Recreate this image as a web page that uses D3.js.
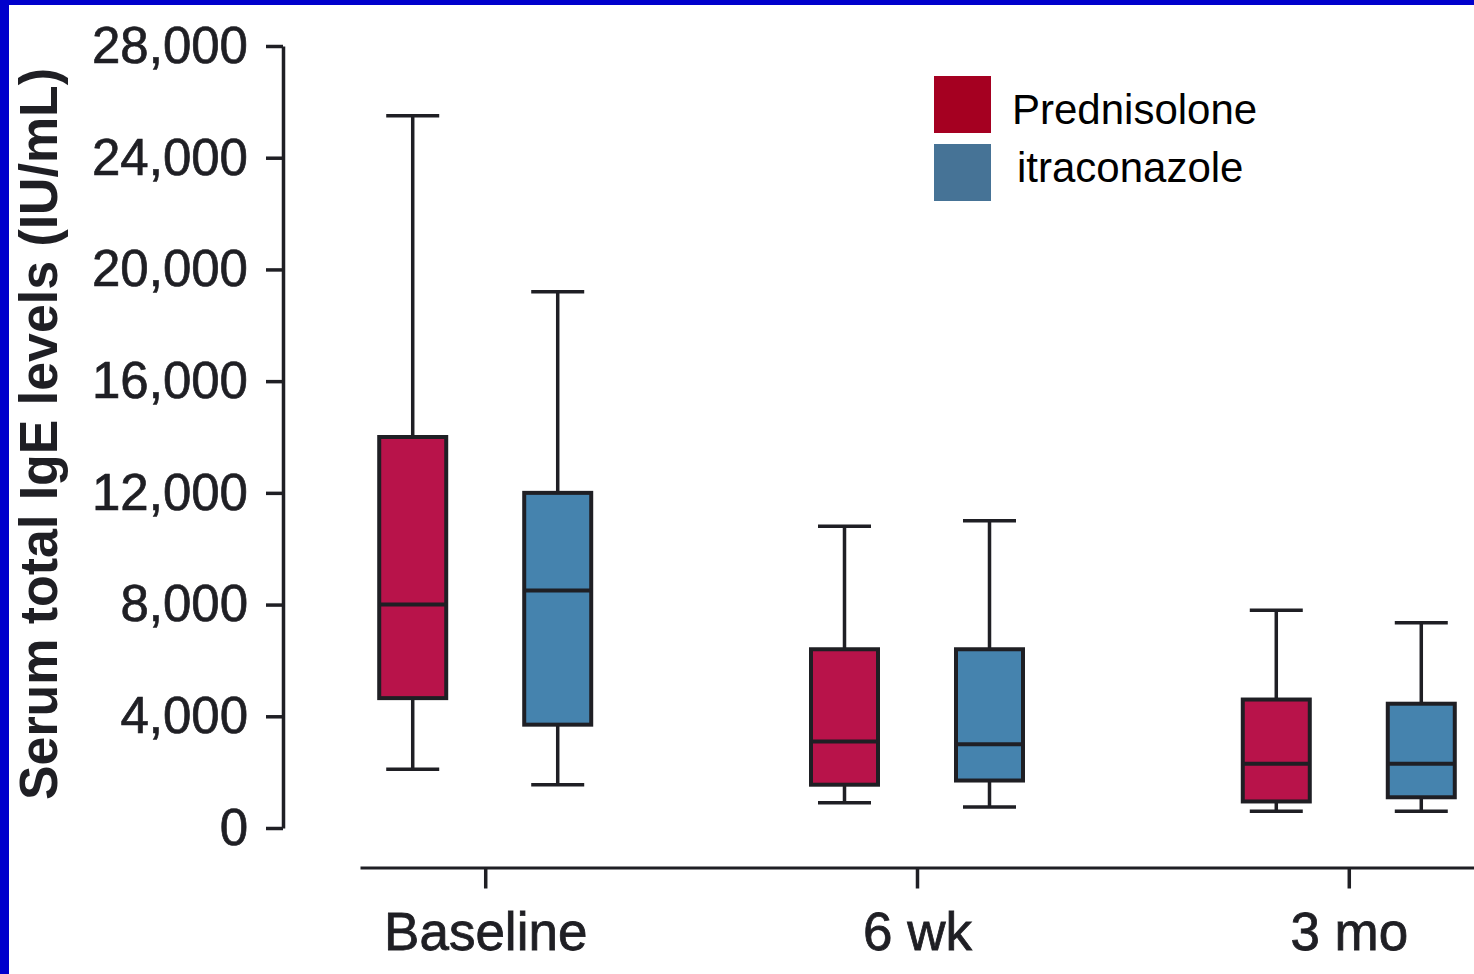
<!DOCTYPE html>
<html>
<head>
<meta charset="utf-8">
<script src="https://cdn.jsdelivr.net/npm/d3@7.9.0/dist/d3.min.js"></script>
<style>
  html, body { margin: 0; padding: 0; background: #fff; }
  svg { display: block; }
  text { font-family: "Liberation Sans", Arial, Helvetica, sans-serif; }
</style>
</head>
<body>
<svg id="chart" width="1474" height="974"></svg>
<script>
// --- data ---
const categories = ['Baseline', '6 wk', '3 mo'];
const series = ['Prednisolone', 'itraconazole'];

const predLow    = [2100,  900,  600];
const predQ1     = [4650, 1550,  950];
const predMedian = [8000, 3100, 2300];
const predQ3     = [14000, 6400, 4600];
const predHigh   = [25500, 10800, 7800];

const itraLow    = [1550,  750,  600];
const itraQ1     = [3700, 1700, 1100];
const itraMedian = [8500, 3000, 2300];
const itraQ3     = [12000, 6400, 4450];
const itraHigh   = [19200, 11000, 7350];

const yTicks = [0, 4000, 8000, 12000, 16000, 20000, 24000, 28000];

const boxFill = ['#B8134A', '#4583AE'];
const legendFill = ['#A50021', '#467396'];
const ink = '#1f1f24';

// build box records from the arrays
const boxes = [];
categories.forEach((c, i) => {
  boxes.push({ cat: c, s: series[0], low: predLow[i], q1: predQ1[i], med: predMedian[i], q3: predQ3[i], high: predHigh[i] });
  boxes.push({ cat: c, s: series[1], low: itraLow[i], q1: itraQ1[i], med: itraMedian[i], q3: itraQ3[i], high: itraHigh[i] });
});

const svg = d3.select('#chart');

// blue frame on top/left
svg.append('rect').attr('x', 0).attr('y', 0).attr('width', 1474).attr('height', 5).attr('fill', '#0000CC');
svg.append('rect').attr('x', 0).attr('y', 0).attr('width', 9).attr('height', 974).attr('fill', '#0000CC');

// scales
const y = d3.scaleLinear().domain([0, 28000]).range([828, 46]);
const x = d3.scalePoint().domain(categories).range([360, 1474]).padding(0.29);
const sub = d3.scalePoint().domain(series).range([-72.5, 72.5]);
const color = d3.scaleOrdinal().domain(series).range(boxFill);

// y axis
const yAxis = svg.append('g')
  .attr('transform', 'translate(283,0)')
  .call(d3.axisLeft(y).tickValues(yTicks).tickFormat(d3.format(',')).tickSize(17).tickSizeOuter(0).tickPadding(18));
yAxis.select('.domain').attr('stroke', ink).attr('stroke-width', 3.5);
yAxis.selectAll('.tick line').attr('stroke', ink).attr('stroke-width', 3.5);
yAxis.selectAll('.tick text')
  .attr('fill', ink).attr('font-size', 51).attr('font-family', '"Liberation Sans", Arial, sans-serif')
  .attr('stroke', ink).attr('stroke-width', 0.7);

// x axis
const xAxis = svg.append('g')
  .attr('transform', 'translate(0,867.5)')
  .call(d3.axisBottom(x).tickSize(21).tickSizeOuter(0).tickPadding(24));
xAxis.select('.domain').attr('stroke', ink).attr('stroke-width', 3);
xAxis.selectAll('.tick line').attr('stroke', ink).attr('stroke-width', 3.5);
xAxis.selectAll('.tick text')
  .attr('fill', ink).attr('font-size', 53).attr('font-family', '"Liberation Sans", Arial, sans-serif')
  .attr('stroke', ink).attr('stroke-width', 0.8);

// y title
svg.append('text')
  .attr('transform', 'translate(57,434) rotate(-90)')
  .attr('text-anchor', 'middle')
  .attr('font-size', 54)
  .attr('font-weight', 'bold')
  .attr('fill', ink)
  .attr('textLength', 732)
  .attr('lengthAdjust', 'spacingAndGlyphs')
  .text('Serum total IgE levels (IU/mL)');

// boxes
const boxW = 67, capW = 53;
const g = svg.append('g').selectAll('g.box').data(boxes).join('g')
  .attr('class', 'box')
  .attr('transform', d => `translate(${x(d.cat) + sub(d.s)},0)`);

// whiskers
g.append('line')
  .attr('x1', 0).attr('x2', 0)
  .attr('y1', d => y(d.high)).attr('y2', d => y(d.low))
  .attr('stroke', ink).attr('stroke-width', 3.5);
g.append('line')
  .attr('x1', -capW / 2).attr('x2', capW / 2)
  .attr('y1', d => y(d.high)).attr('y2', d => y(d.high))
  .attr('stroke', ink).attr('stroke-width', 3.5);
g.append('line')
  .attr('x1', -capW / 2).attr('x2', capW / 2)
  .attr('y1', d => y(d.low)).attr('y2', d => y(d.low))
  .attr('stroke', ink).attr('stroke-width', 3.5);

// box body
g.append('rect')
  .attr('x', -boxW / 2).attr('width', boxW)
  .attr('y', d => y(d.q3)).attr('height', d => y(d.q1) - y(d.q3))
  .attr('fill', d => color(d.s))
  .attr('stroke', ink).attr('stroke-width', 4);

// median
g.append('line')
  .attr('x1', -boxW / 2).attr('x2', boxW / 2)
  .attr('y1', d => y(d.med)).attr('y2', d => y(d.med))
  .attr('stroke', ink).attr('stroke-width', 4);

// legend
const legend = svg.append('g').selectAll('g').data(series).join('g')
  .attr('transform', (d, i) => `translate(934,${76 + i * 68})`);
legend.append('rect')
  .attr('width', 57).attr('height', 57)
  .attr('fill', (d, i) => legendFill[i]);
legend.append('text')
  .attr('x', (d, i) => i === 0 ? 78 : 83)
  .attr('y', (d, i) => i === 0 ? 48 : 38)
  .attr('font-size', 42)
  .attr('fill', '#000')
  .text(d => d);
</script>
</body>
</html>
